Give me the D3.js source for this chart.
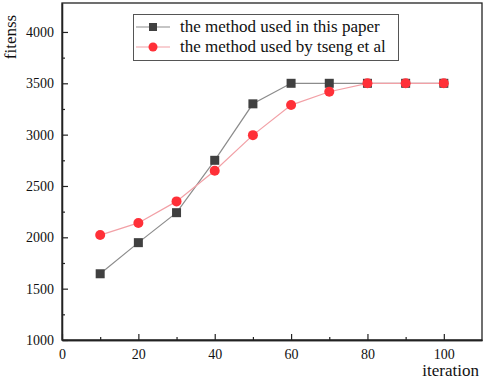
<!DOCTYPE html>
<html>
<head>
<meta charset="utf-8">
<script src="https://d3js.org/d3.v7.min.js"></script>
<style>
body { margin: 0; background: #fff; }
</style>
</head>
<body>
<div id="chart-area"></div>
<script>
const iterations = [10, 20, 30, 40, 50, 60, 70, 80, 90, 100];
const thisPaper = [1645, 1948, 2240, 2750, 3300, 3500, 3500, 3500, 3500, 3500];
const tsengEtAl = [2022, 2140, 2350, 2648, 2995, 3288, 3418, 3500, 3500, 3500];
const seriesNames = ["the method used in this paper", "the method used by tseng et al"];
const xTicks = [0, 20, 40, 60, 80, 100];
const yTicks = [1000, 1500, 2000, 2500, 3000, 3500, 4000];

const serif = "'Liberation Serif', 'DejaVu Serif', serif";

let width = 484, height = 379;
let margin = {left: 62, right: 2, top: 3, bottom: 39};
let w = width - margin.left - margin.right;
let h = height - margin.top - margin.bottom;

let svg = d3.select("#chart-area").append("svg")
	.attr("width", width)
	.attr("height", height);

let g = svg.append("g")
	.attr("transform", "translate(" + margin.left + "," + margin.top + ")");

let x = d3.scaleLinear().domain([0, 110]).range([0, w]);
let y = d3.scaleLinear().domain([1000, 4282]).range([h, 0]);

// frame
g.append("rect")
	.attr("width", w).attr("height", h)
	.attr("fill", "none").attr("stroke", "#222").attr("stroke-width", 1.3);

// x axis: major + minor ticks pointing inward
g.append("g").attr("transform", "translate(0," + h + ")")
	.call(d3.axisBottom(x).tickValues(xTicks).tickFormat(d3.format("d"))
		.tickSizeInner(-6).tickSizeOuter(0).tickPadding(9));
g.append("g").attr("transform", "translate(0," + h + ")")
	.call(d3.axisBottom(x).tickValues(d3.range(10, 110, 20)).tickSizeInner(-3).tickSizeOuter(0).tickFormat(""));

g.append("g")
	.call(d3.axisLeft(y).tickValues(yTicks).tickFormat(d3.format("d"))
		.tickSizeInner(-6).tickSizeOuter(0).tickPadding(8));
g.append("g")
	.call(d3.axisLeft(y).tickValues(d3.range(1250, 4250, 500)).tickSizeInner(-3).tickSizeOuter(0).tickFormat(""));

g.selectAll(".domain").attr("stroke", "#222").attr("stroke-width", 1.3);
g.selectAll(".tick line").attr("stroke", "#222").attr("stroke-width", 1.2);
g.selectAll(".tick text")
	.style("font-family", serif).style("font-size", "14px").attr("fill", "#111");

// axis labels
svg.append("text")
	.text("iteration")
	.attr("x", 479).attr("y", 376)
	.attr("text-anchor", "end")
	.style("font-family", serif).style("font-size", "17px").attr("fill", "#111");

svg.append("text")
	.text("fitenss")
	.attr("transform", "translate(16,37) rotate(-90)")
	.attr("text-anchor", "middle")
	.style("font-family", serif).style("font-size", "17px").attr("fill", "#111");

// lines
let line = d3.line().x(d => x(d[0])).y(d => y(d[1]));
let blackPts = iterations.map((d, i) => [d, thisPaper[i]]);
let redPts = iterations.map((d, i) => [d, tsengEtAl[i]]);

g.append("path").attr("d", line(blackPts))
	.attr("fill", "none").attr("stroke", "#8c8c8c").attr("stroke-width", 1.2);
g.append("path").attr("d", line(redPts))
	.attr("fill", "none").attr("stroke", "#f2a0a6").attr("stroke-width", 1.2);

g.append("g").selectAll("rect")
	.data(blackPts).enter().append("rect")
	.attr("x", d => x(d[0]) - 4.5).attr("y", d => y(d[1]) - 4.5)
	.attr("width", 9).attr("height", 9)
	.attr("fill", "#404040");

g.append("g").selectAll("circle")
	.data(redPts).enter().append("circle")
	.attr("cx", d => x(d[0])).attr("cy", d => y(d[1]))
	.attr("r", 5)
	.attr("fill", "#ff3038");

// legend
let legend = svg.append("g");
legend.append("rect")
	.attr("x", 133.5).attr("y", 14.5).attr("width", 265).attr("height", 46)
	.attr("fill", "#fff").attr("stroke", "#555").attr("stroke-width", 1);

let ly = [27, 47];
legend.append("line").attr("x1", 136).attr("x2", 170).attr("y1", ly[0]).attr("y2", ly[0])
	.attr("stroke", "#8c8c8c").attr("stroke-width", 1.2);
legend.append("rect").attr("x", 149).attr("y", ly[0] - 4).attr("width", 8).attr("height", 8)
	.attr("fill", "#404040");
legend.append("line").attr("x1", 136).attr("x2", 170).attr("y1", ly[1]).attr("y2", ly[1])
	.attr("stroke", "#f2a0a6").attr("stroke-width", 1.2);
legend.append("circle").attr("cx", 153).attr("cy", ly[1]).attr("r", 4.5)
	.attr("fill", "#ff3038");

legend.selectAll("text.lg")
	.data(seriesNames).enter().append("text")
	.attr("class", "lg")
	.text(d => d)
	.attr("x", 180).attr("y", (d, i) => ly[i] + 5)
	.style("font-family", serif).style("font-size", "17px").attr("fill", "#111");
</script>
</body>
</html>
